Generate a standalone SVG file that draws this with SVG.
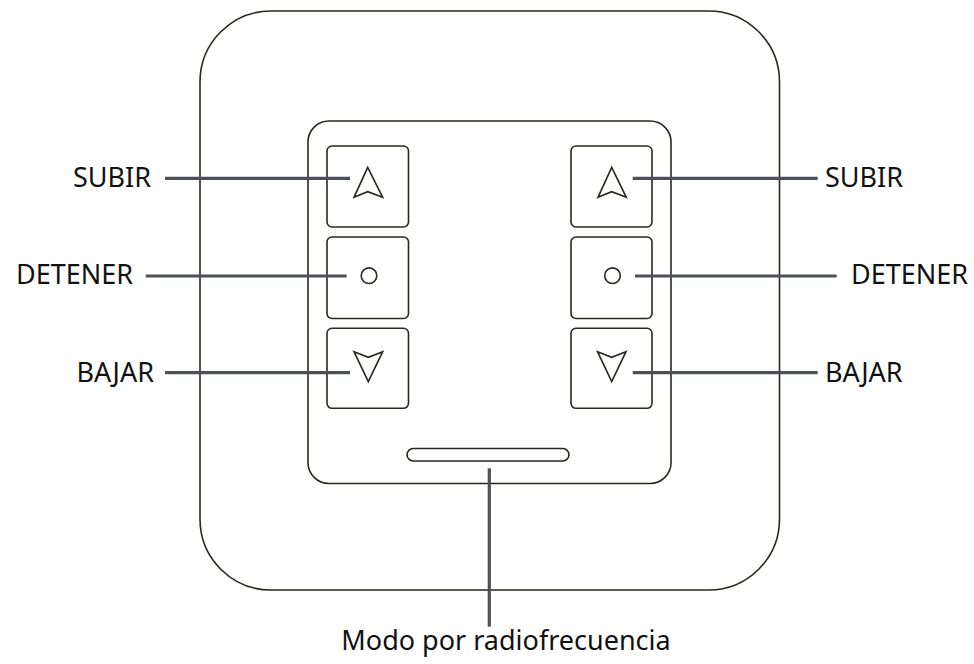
<svg xmlns="http://www.w3.org/2000/svg" width="974" height="664" viewBox="0 0 974 664">
<style>
.o{fill:none;stroke:#2a2720;stroke-width:1.6}
.btn{fill:#fff;stroke:#2a2720;stroke-width:1.6}
.c{stroke:#4d5157;stroke-width:3.2;fill:none}
.t{font-family:"Noto Sans","Open Sans",sans-serif;font-size:27px;fill:#111}
</style>
<rect width="974" height="664" fill="#fff"/>
<g id="housing">
<rect class="o" x="200" y="11" width="579.5" height="579" rx="71" ry="71"/>
</g>
<g id="panel">
<rect class="o" x="308" y="121" width="363" height="362.5" rx="21" ry="21"/>
</g>
<g id="slot">
<rect class="o" x="407" y="448.5" width="162" height="12.5" rx="6.25" ry="6.25"/>
</g>
<g id="btn-left-up">
<rect class="btn" x="327" y="146" width="81.5" height="81" rx="5"/>
<polygon class="o" points="367.7,167.3 382.7,197.3 367.7,191.7 354,197.3"/>
</g>
<g id="btn-left-stop">
<rect class="btn" x="327" y="237" width="81.5" height="81.5" rx="5"/>
<circle class="o" cx="369" cy="275.7" r="7.8"/>
</g>
<g id="btn-left-down">
<rect class="btn" x="327" y="328.3" width="81.5" height="80" rx="5"/>
<polygon class="o" points="354,351.7 368.3,357.3 382.7,351.7 368.3,381.7"/>
</g>
<g id="btn-right-up">
<rect class="btn" x="571" y="146" width="81" height="81" rx="5"/>
<polygon class="o" points="611.7,167.3 626.3,197.3 611.7,191.7 598,197.3"/>
</g>
<g id="btn-right-stop">
<rect class="btn" x="571" y="237" width="81" height="81.5" rx="5"/>
<circle class="o" cx="612.5" cy="275.7" r="7.8"/>
</g>
<g id="btn-right-down">
<rect class="btn" x="571" y="328.3" width="81" height="80" rx="5"/>
<polygon class="o" points="597.5,351.7 611.7,357.3 626,351.7 611.7,381.7"/>
</g>
<g id="connectors">
<line class="c" x1="165" y1="178.3" x2="350" y2="178.3"/>
<line class="c" x1="145.7" y1="276" x2="346.7" y2="276"/>
<line class="c" x1="165" y1="372.7" x2="350" y2="372.7"/>
<line class="c" x1="632.7" y1="178.3" x2="817.7" y2="178.3"/>
<line class="c" x1="635" y1="276" x2="836.7" y2="276"/>
<line class="c" x1="632.7" y1="372.7" x2="817.7" y2="372.7"/>
<line class="c" x1="489.3" y1="468.3" x2="489.3" y2="626.7"/>
</g>
<g id="labels">
<text class="t" x="151" y="186.7" text-anchor="end">SUBIR</text>
<text class="t" x="133" y="284" text-anchor="end">DETENER</text>
<text class="t" x="154" y="382.3" text-anchor="end">BAJAR</text>
<text class="t" x="825" y="186.7">SUBIR</text>
<text class="t" x="851" y="284">DETENER</text>
<text class="t" x="825" y="382.3">BAJAR</text>
<text class="t" x="506" y="650" text-anchor="middle">Modo por radiofrecuencia</text>
</g>
</svg>
